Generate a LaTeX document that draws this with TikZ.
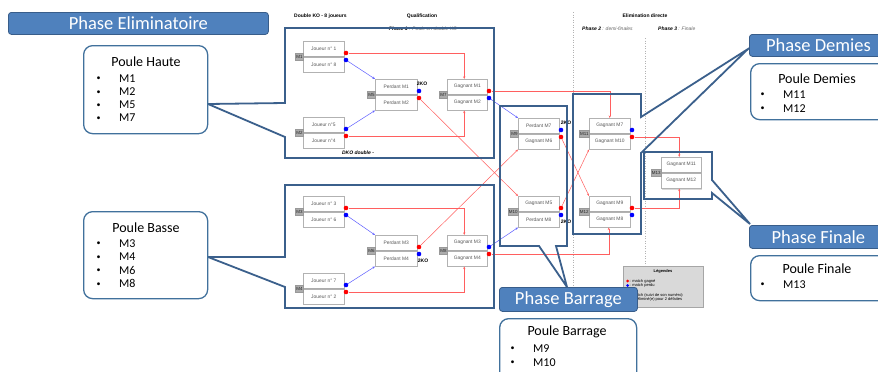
\documentclass[tikz,border=0pt]{standalone}
\usepackage{fontspec}
\setmainfont{Carlito}
\newfontfamily\arialf{Liberation Sans}
\usetikzlibrary{arrows.meta}
\definecolor{cblue}{RGB}{59,96,140}
\definecolor{bfill}{RGB}{79,129,189}
\definecolor{bdraw}{RGB}{56,93,138}
\definecolor{pdraw}{RGB}{65,113,156}
\definecolor{rline}{RGB}{255,95,95}
\definecolor{uline}{RGB}{95,95,255}
\definecolor{mtext}{RGB}{89,89,89}
\definecolor{legfill}{RGB}{217,217,217}
\newcommand\mfont{\arialf\fontsize{4.9}{5.5}\selectfont}
\newcommand\hfont{\arialf\fontsize{5}{6}\selectfont}
\tikzset{
  mbox/.style={draw=gray!60, fill=white, minimum height=15, inner sep=0pt, font=\mfont, text=mtext, line width=0.5pt},
  mtab/.style={fill=gray!65, draw=gray!80, minimum height=7.5, inner sep=0.8pt, font=\arialf\fontsize{4.5}{5}\selectfont, text=black!85, line width=0.3pt},
  dot/.style={circle, inner sep=0pt, minimum size=4.6, draw=none},
  sepline/.style={draw=gray!65, line width=1.4pt},
  rcon/.style={draw=rline, line width=0.5pt, -{Stealth[length=2.6pt,width=2.2pt]}},
  ucon/.style={draw=uline, line width=0.5pt, -{Stealth[length=2.6pt,width=2.2pt]}},
  callout/.style={draw=cblue, line width=1.8pt, line join=miter},
  banner/.style={fill=bfill, draw=bdraw, line width=0.8pt, rounded corners=3pt, text=white, font=\fontsize{18.5}{20}\selectfont, inner sep=0pt},
  poule/.style={fill=white, draw=pdraw, line width=1.3pt, rounded corners=9pt, inner sep=0pt},
  ptitle/.style={font=\fontsize{14}{16}\selectfont, inner sep=0pt},
  pitem/.style={font=\fontsize{12}{14}\selectfont, inner sep=0pt, anchor=base west},
  pbul/.style={font=\fontsize{8}{9}\selectfont, inner sep=0pt, anchor=base west},
  hdr/.style={font=\hfont\bfseries, inner sep=0pt},
  hdrit/.style={font=\hfont\itshape, text=gray!80!black, inner sep=0pt},
  ko/.style={font=\hfont\bfseries, inner sep=0pt},
  dotline/.style={draw=gray!60, line width=0.5pt, dotted},
  legbox/.style={fill=legfill, draw=gray!70, line width=0.5pt, inner sep=0pt},
  legt/.style={font=\arialf\fontsize{4}{4.5}\selectfont, inner sep=0pt, anchor=west}
}
% #1 name #2 label #3 x #4 top #5 width #6 text1 #7 text2 #8 top dot colour #9 bottom dot colour
\newcommand\mpair[9]{%
  \fill[gray!30] (#3+0.9,#4+0.9) rectangle (#3+#5+0.9,#4+31.9);
  \node[mbox,minimum width=#5,anchor=north west] (#1t) at (#3,#4) {#6};
  \node[mbox,minimum width=#5,anchor=north west] (#1b) at (#3,#4+16) {#7};
  \draw[sepline] (#3-3,#4+15.5) -- (#3+#5,#4+15.5);
  \node[mtab,anchor=east] (#1l) at (#3+0.5,#4+15.5) {#2};
  \node[dot,fill=#8] (#1#8) at (#3+#5+2,#4+12) {};
  \node[dot,fill=#9] (#1#9) at (#3+#5+2,#4+19) {};
}
\begin{document}
\begin{tikzpicture}[x=1pt,y=-1pt]
\useasboundingbox (0,0) rectangle (878,372);
\fill[white] (0,0) rectangle (878,372);

% headers
\node[hdr,anchor=west] (h1) at (294,16) {Double KO - 8 joueurs};
\node[hdr] (h2) at (422,16) {Qualification};
\node[hdrit] (h3) at (423,29) {\textcolor{black}{\bfseries Phase 1} : Poule en double KO};
\node[hdr] (h4) at (645,16) {Elimination directe};
\node[hdrit,anchor=west] (h5) at (582,29) {\textcolor{black}{\bfseries Phase 2} : demi-finales};
\node[hdrit,anchor=west] (h6) at (658,29) {\textcolor{black}{\bfseries Phase 3} : Finale};
\node[hdr,font=\hfont\bfseries\itshape] (dko) at (358,153) {DKO double -};

% dotted separators
\draw[dotline] (573,12) -- (573,290);
\draw[dotline] (645,38) -- (645,266);

% matches
\mpair{m1}{M1}{303}{41}{41}{Joueur n° 1}{Joueur n° 8}{red}{blue}
\mpair{m2}{M2}{303}{117}{41}{Joueur n°5}{Joueur n°4}{blue}{red}
\mpair{m5}{M5}{375}{79}{42}{Perdant M1}{Perdant M2}{blue}{red}
\mpair{m7}{M7}{447}{79}{40}{Gagnant M1}{Gagnant M2}{red}{blue}
\mpair{m3}{M3}{303}{196}{41}{Joueur n° 3}{Joueur n° 6}{red}{blue}
\mpair{m4}{M4}{303}{273}{41}{Joueur n° 7}{Joueur n° 2}{blue}{red}
\mpair{m6}{M6}{375}{235}{42}{Perdant M3}{Perdant M4}{red}{blue}
\mpair{m8}{M8}{447}{235}{40}{Gagnant M3}{Gagnant M4}{blue}{red}
\mpair{m9}{M9}{518}{118}{41}{Perdant M7}{Gagnant M6}{blue}{red}
\mpair{m10}{M10}{518}{196}{41}{Gagnant M5}{Perdant M8}{red}{blue}
\mpair{m11}{M11}{589}{118}{41}{Gagnant M7}{Gagnant M10}{blue}{red}
\mpair{m12}{M12}{589}{196}{41}{Gagnant M9}{Gagnant M8}{red}{blue}

% M13 (no dots)
\fill[gray!30] (661.9,157.9) rectangle (701.9,189.9);
\node[mbox,minimum width=40,anchor=north west] (m13t) at (661,157) {Gagnant M11};
\node[mbox,minimum width=40,anchor=north west] (m13b) at (661,173) {Gagnant M12};
\draw[sepline] (658,172.5) -- (701,172.5);
\node[mtab,anchor=east] (m13l) at (661.5,172.5) {M13};

% 2KO marks
\node[ko] (ko5) at (422,84) {2KO};
\node[ko] (ko6) at (423,261) {2KO};
\node[ko] (ko9) at (566,123) {2KO};
\node[ko] (ko10) at (566,222) {2KO};

% connectors
\draw[rcon] (m1red) -| ([xshift=-3pt]m7t.north);
\draw[ucon] (m1blue) -- (m5t.north west);
\draw[ucon] (m2blue) -- (m5b.south west);
\draw[rcon] (m2red) -| ([xshift=-3pt]m7b.south);
\draw[rcon] (m3red) -| ([xshift=-3pt]m8t.north);
\draw[ucon] (m3blue) -- (m6t.north west);
\draw[ucon] (m4blue) -- (m6b.south west);
\draw[rcon] (m4red) -| ([xshift=-3pt]m8b.south);
\draw[rcon] (m5red) -- (m10t.north west);
\draw[rcon] (m6red) -- (m9b.south west);
\draw[rcon] (m7red) -| (m11t.north);
\draw[ucon] (m7blue) -- (m9t.north west);
\draw[ucon] (m8blue) -- (m10b.south west);
\draw[rcon] (m8red) -| ([xshift=-1pt]m12b.south);
\draw[rcon] (m9red) -- (m12t.north west);
\draw[rcon] (m10red) -- (m11b.south west);
\draw[rcon] (m11red) -| ([xshift=-2pt]m13t.north);
\draw[rcon] (m12red) -| ([xshift=-2pt]m13b.south);

% legend
\node[legbox,minimum width=80,minimum height=41,anchor=north west] (leg) at (623,266) {};
\node[legt,anchor=center,font=\arialf\bfseries\fontsize{4}{4.5}\selectfont] (legt0) at (663,271.5) {Légendes};
\node[dot,fill=red,minimum size=3] (legr) at (627.5,281) {};
\node[legt] (legt1) at (629.5,281) {: match gagné};
\node[dot,fill=blue,minimum size=3] (legu) at (627.5,285.5) {};
\node[legt] (legt2) at (629.5,285.5) {: match perdu};
\node[legt] (legt3) at (625.5,295) {M : match (suivi de son numéro)};
\node[legt] (legt4) at (625.5,299.5) {2KO : éliminé(e) pour 2 défaites};

% callout outlines
\draw[callout] (285,28) -- (494,28) -- (494,158) -- (285,158) -- (285,137) -- (208,104) -- (285,103) -- cycle;
\draw[callout] (285,185) -- (494,185) -- (494,308) -- (285,308) -- (285,287) -- (208,257) -- (285,257) -- cycle;
\draw[callout] (500,106) -- (567,106) -- (567,246) -- (556,246) -- (567,287) -- (539,246) -- (500,246) -- cycle;
\draw[callout] (573,94) -- (641,94) -- (641,117) -- (748,49) -- (641,153) -- (641,234) -- (573,234) -- cycle;
\draw[callout] (644,152) -- (712,152) -- (712,180) -- (750,224) -- (712,193) -- (712,199) -- (644,199) -- cycle;

% banners
\node[banner,minimum width=260,minimum height=22,anchor=north west] (banE) at (8,12) {Phase Eliminatoire};
\node[banner,minimum width=138,minimum height=22,anchor=north west] (banD) at (749,34) {Phase Demies};
\node[banner,minimum width=138,minimum height=23,anchor=north west] (banF) at (749,225) {Phase Finale};
\node[banner,minimum width=138,minimum height=24,anchor=north west] (banB) at (499,287) {Phase Barrage};

% poule boxes
\node[poule,minimum width=124,minimum height=88,anchor=north west] (pH) at (83,45) {};
\node[ptitle] (pHt) at (146,62) {Poule Haute};
\foreach \t [count=\i] in {M1,M2,M5,M7} {
  \node[pbul] (pHb\i) at (96.5,{78+13.3*(\i-1)+2.8}) {•};
  \node[pitem] (pHi\i) at (119,{78+13.3*(\i-1)+4}) {\t};
}
\node[poule,minimum width=124,minimum height=87,anchor=north west] (pB) at (83,211) {};
\node[ptitle] (pBt) at (146,228) {Poule Basse};
\foreach \t [count=\i] in {M3,M4,M6,M8} {
  \node[pbul] (pBb\i) at (96.5,{243+13.5*(\i-1)+2.8}) {•};
  \node[pitem] (pBi\i) at (119,{243+13.5*(\i-1)+4}) {\t};
}
\node[poule,minimum width=137,minimum height=56,anchor=north west] (pD) at (750,63) {};
\node[ptitle] (pDt) at (817,79) {Poule Demies};
\node[pbul] (pDb1) at (760.5,96.8) {•};
\node[pitem] (pDi1) at (783,98) {M11};
\node[pbul] (pDb2) at (760.5,110.8) {•};
\node[pitem] (pDi2) at (783,112) {M12};
\node[poule,minimum width=137,minimum height=45,anchor=north west] (pF) at (750,255) {};
\node[ptitle] (pFt) at (817,269) {Poule Finale};
\node[pbul] (pFb1) at (760.5,286.8) {•};
\node[pitem] (pFi1) at (783,288) {M13};
\node[poule,minimum width=137,minimum height=70,anchor=north west] (pR) at (499,318) {};
\node[ptitle] (pRt) at (567,332) {Poule Barrage};
\node[pbul] (pRb1) at (510.5,350.8) {•};
\node[pitem] (pRi1) at (533,352) {M9};
\node[pbul] (pRb2) at (510.5,364.8) {•};
\node[pitem] (pRi2) at (533,366) {M10};
\end{tikzpicture}
\end{document}
